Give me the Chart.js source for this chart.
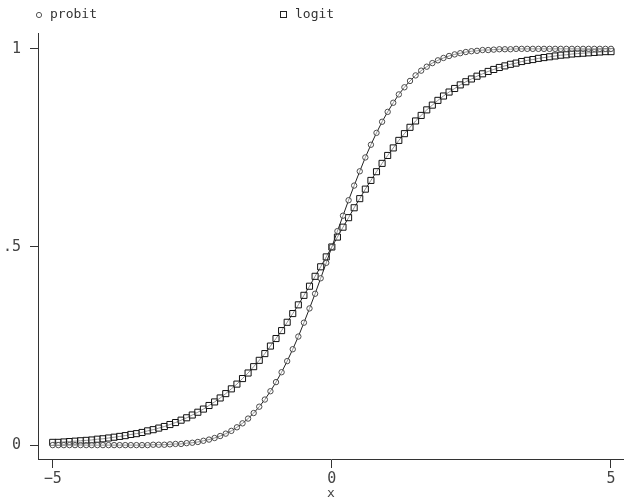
<!DOCTYPE html>
<html>
<head>
<meta charset="utf-8">
<script src="https://cdn.jsdelivr.net/npm/chart.js@4"></script>
<style>
  html, body { margin: 0; padding: 0; background: #fff; overflow: hidden; }
  canvas { display: block; }
</style>
</head>
<body>
<canvas id="myChart" width="624" height="501"></canvas>
<script>
var xValues = [-5.0, -4.9, -4.8, -4.7, -4.6, -4.5, -4.4, -4.3, -4.2, -4.1,
  -4.0, -3.9, -3.8, -3.7, -3.6, -3.5, -3.4, -3.3, -3.2, -3.1,
  -3.0, -2.9, -2.8, -2.7, -2.6, -2.5, -2.4, -2.3, -2.2, -2.1,
  -2.0, -1.9, -1.8, -1.7, -1.6, -1.5, -1.4, -1.3, -1.2, -1.1,
  -1.0, -0.9, -0.8, -0.7, -0.6, -0.5, -0.4, -0.3, -0.2, -0.1,
  0.0, 0.1, 0.2, 0.3, 0.4, 0.5, 0.6, 0.7, 0.8, 0.9,
  1.0, 1.1, 1.2, 1.3, 1.4, 1.5, 1.6, 1.7, 1.8, 1.9,
  2.0, 2.1, 2.2, 2.3, 2.4, 2.5, 2.6, 2.7, 2.8, 2.9,
  3.0, 3.1, 3.2, 3.3, 3.4, 3.5, 3.6, 3.7, 3.8, 3.9,
  4.0, 4.1, 4.2, 4.3, 4.4, 4.5, 4.6, 4.7, 4.8, 4.9, 5.0];

var probit = [0, 0, 0, 0, 0, 0, 0, 0, 0, 0,
  0, 0, 0, 0, 0, 0, 0.000, 0.000, 0.001, 0.001,
  0.001, 0.002, 0.003, 0.003, 0.005, 0.006, 0.008, 0.011, 0.014, 0.018,
  0.023, 0.029, 0.036, 0.045, 0.055, 0.067, 0.081, 0.097, 0.115, 0.136,
  0.159, 0.184, 0.212, 0.242, 0.274, 0.309, 0.345, 0.382, 0.421, 0.460,
  0.500, 0.540, 0.579, 0.618, 0.655, 0.691, 0.726, 0.758, 0.788, 0.816,
  0.841, 0.864, 0.885, 0.903, 0.919, 0.933, 0.945, 0.955, 0.964, 0.971,
  0.977, 0.982, 0.986, 0.989, 0.992, 0.994, 0.995, 0.997, 0.997, 0.998,
  0.999, 0.999, 0.999, 1, 1, 1, 1, 1, 1, 1,
  1, 1, 1, 1, 1, 1, 1, 1, 1, 1, 1];

var logit = [0.007, 0.007, 0.008, 0.009, 0.010, 0.011, 0.012, 0.013, 0.015, 0.016,
  0.018, 0.020, 0.022, 0.024, 0.027, 0.029, 0.032, 0.036, 0.039, 0.043,
  0.047, 0.052, 0.057, 0.063, 0.069, 0.076, 0.083, 0.091, 0.100, 0.109,
  0.119, 0.130, 0.142, 0.154, 0.168, 0.182, 0.198, 0.214, 0.231, 0.250,
  0.269, 0.289, 0.310, 0.332, 0.354, 0.378, 0.401, 0.426, 0.450, 0.475,
  0.500, 0.525, 0.550, 0.574, 0.599, 0.622, 0.646, 0.668, 0.690, 0.711,
  0.731, 0.750, 0.769, 0.786, 0.802, 0.818, 0.832, 0.846, 0.858, 0.870,
  0.881, 0.891, 0.900, 0.909, 0.917, 0.924, 0.931, 0.937, 0.943, 0.948,
  0.953, 0.957, 0.961, 0.964, 0.968, 0.971, 0.973, 0.976, 0.978, 0.980,
  0.982, 0.984, 0.985, 0.987, 0.988, 0.989, 0.990, 0.991, 0.992, 0.993, 0.993];

var xTicks = [-5, 0, 5];
var yTicks = [0, 0.5, 1];
var yTickLabels = ['0', '.5', '1'];

function pairs(ys) {
  return xValues.map(function (x, i) { return { x: x, y: ys[i] }; });
}

var fontFace = "'DejaVu Sans Mono', monospace";

// legend drawn by hand so the two entries sit where the original has them
var topLegend = {
  id: 'topLegend',
  afterDraw: function (chart) {
    var c = chart.ctx;
    c.save();
    c.lineWidth = 1;
    c.font = '13px ' + fontFace;
    c.fillStyle = '#333';
    c.textBaseline = 'middle';
    c.strokeStyle = '#555';
    c.beginPath();
    c.arc(39, 15, 2.6, 0, Math.PI * 2);
    c.stroke();
    c.fillText(chart.data.datasets[0].label, 50, 15);
    c.strokeStyle = '#222';
    c.strokeRect(280.5, 11.5, 6, 6);
    c.fillText(chart.data.datasets[1].label, 295, 15);
    c.restore();
  }
};

var ctx = document.getElementById('myChart').getContext('2d');
var myChart = new Chart(ctx, {
  type: 'scatter',
  data: {
    datasets: [{
      label: 'probit',
      data: pairs(probit),
      showLine: true,
      borderColor: '#222',
      borderWidth: 1,
      pointStyle: 'circle',
      pointRadius: 2.7,
      pointBorderWidth: 1,
      pointBorderColor: '#4a4a4a',
      pointBackgroundColor: 'rgba(255,255,255,0.5)'
    }, {
      label: 'logit',
      data: pairs(logit),
      showLine: true,
      borderColor: '#222',
      borderWidth: 1,
      pointStyle: 'rect',
      pointRadius: 4.3,
      pointBorderWidth: 1,
      pointBorderColor: '#111',
      pointBackgroundColor: 'rgba(255,255,255,0.5)'
    }]
  },
  options: {
    responsive: false,
    animation: false,
    layout: { autoPadding: false, padding: { top: 33, right: 0, left: 0, bottom: 0 } },
    plugins: {
      legend: { display: false },
      tooltip: { enabled: false }
    },
    scales: {
      x: {
        type: 'linear',
        min: -5.263,
        max: 5.233,
        afterBuildTicks: function (s) { s.ticks = xTicks.map(function (v) { return { value: v }; }); },
        afterFit: function (s) { s.height = 42; s.paddingLeft = 0; s.paddingRight = 0; },
        border: { display: true, color: '#333', width: 1 },
        grid: { drawOnChartArea: false, drawTicks: true, tickLength: 9, color: '#333' },
        ticks: {
          padding: 2,
          color: '#444',
          font: { family: fontFace, size: 15 },
          callback: function (v) { return v < 0 ? '\u2212' + Math.abs(v) : String(v); }
        },
        title: {
          display: true,
          text: 'x',
          color: '#444',
          font: { family: fontFace, size: 13 },
          padding: { top: 0, bottom: 0 }
        }
      },
      y: {
        type: 'linear',
        min: -0.035,
        max: 1.04,
        afterBuildTicks: function (s) { s.ticks = yTicks.map(function (v) { return { value: v }; }); },
        afterFit: function (s) { s.width = 38; s.paddingTop = 0; s.paddingBottom = 0; },
        border: { display: true, color: '#333', width: 1 },
        grid: { drawOnChartArea: false, drawTicks: true, tickLength: 8, color: '#333' },
        ticks: {
          padding: 9,
          color: '#444',
          font: { family: fontFace, size: 15 },
          callback: function (v) { return yTickLabels[yTicks.indexOf(v)]; }
        }
      }
    }
  },
  plugins: [topLegend]
});
</script>
</body>
</html>
